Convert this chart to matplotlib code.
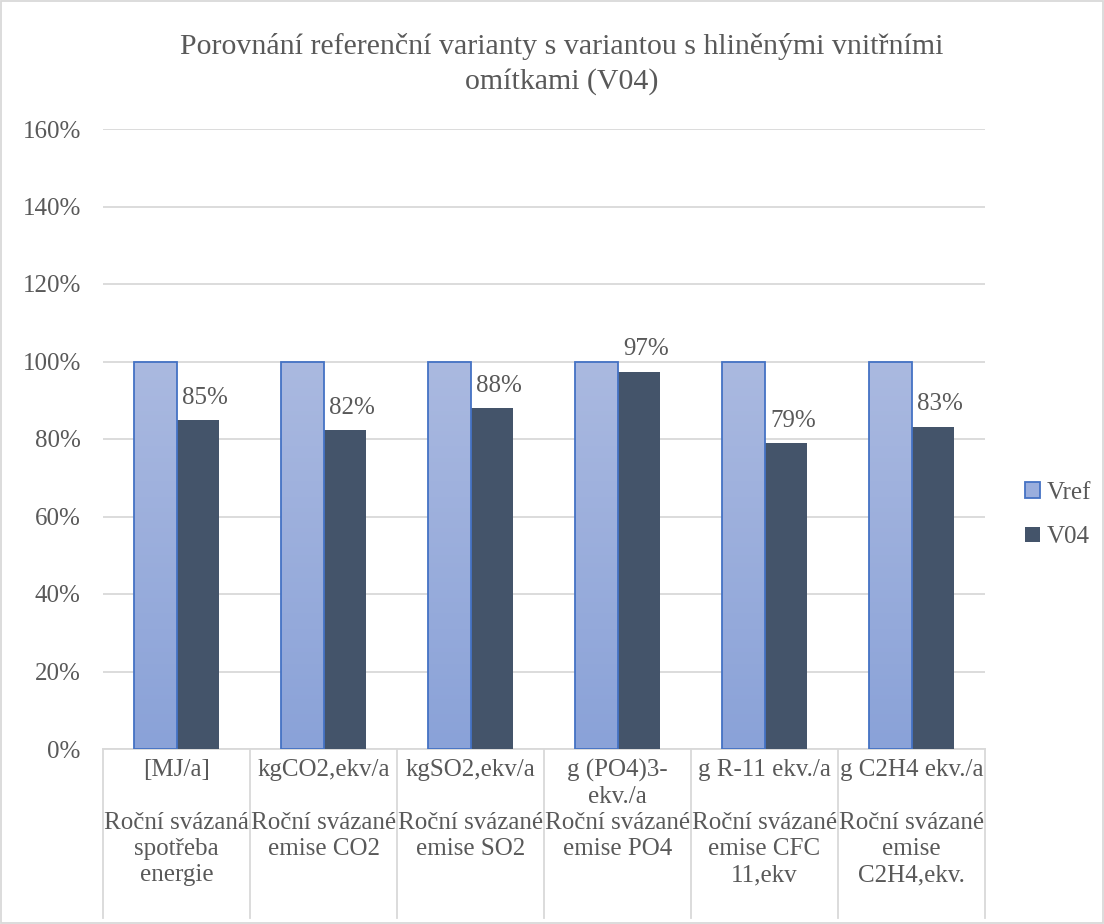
import numpy as np
import matplotlib.pyplot as plt
from matplotlib.colors import LinearSegmentedColormap
from matplotlib.patches import Patch

plt.rcParams['font.family'] = ['Liberation Serif', 'DejaVu Serif']

# data
units = ['[MJ/a]', 'kgCO2,ekv/a', 'kgSO2,ekv/a', 'g (PO4)3-\nekv./a',
         'g R-11 ekv./a', 'g C2H4 ekv./a']
descriptions = ['Roční svázaná\nspotřeba\nenergie', 'Roční svázané\nemise CO2',
                'Roční svázané\nemise SO2', 'Roční svázané\nemise PO4',
                'Roční svázané\nemise CFC\n11,ekv', 'Roční svázané\nemise\nC2H4,ekv.']
vref = [1.00, 1.00, 1.00, 1.00, 1.00, 1.00]
v04 = [0.85, 0.823, 0.879, 0.974, 0.789, 0.832]

title = 'Porovnání referenční varianty s variantou s hliněnými vnitřními\nomítkami (V04)'
text_col = '#595959'
grid_col = '#D9D9D9'
fs = 18

fig = plt.figure(figsize=(11.04, 9.24), dpi=100)
ax = fig.add_axes([103 / 1104, 1 - 749 / 924, 882 / 1104, 620 / 924])

x = np.arange(len(units))
w = 0.29
b1 = ax.bar(x - w / 2, vref, w, color='none', edgecolor='#4472C4', linewidth=1.3,
            zorder=4)
b2 = ax.bar(x + w / 2, v04, w, color='#44546A', zorder=3)

# vertical gradient fill for the Vref bars
grad = LinearSegmentedColormap.from_list('g', ['#8AA2D8', '#AAB9E0'])
for bar in b1:
    x0, y0 = bar.get_x(), bar.get_y()
    img = ax.imshow(np.linspace(0, 1, 100).reshape(-1, 1), cmap=grad, origin='lower',
                    extent=[x0, x0 + bar.get_width(), y0, y0 + bar.get_height()],
                    aspect='auto', zorder=3.5)
    img.set_clip_path(bar)

for xi, v in zip(x, v04):
    ax.annotate(f'{v * 100:.0f}%', (xi + w / 2, v), xytext=(5, 8),
                textcoords='offset points', ha='center', va='bottom',
                fontsize=fs, color=text_col, zorder=5)

ax.set_xlim(-0.5, len(units) - 0.5)
ax.set_ylim(0, 1.6)
ax.set_yticks(np.arange(0, 1.61, 0.2))
ax.set_yticklabels([f'{t * 100:.0f}%' for t in np.arange(0, 1.61, 0.2)])
ax.tick_params(axis='y', length=0, labelsize=fs, labelcolor=text_col, pad=16)
ax.set_xticks([])
ax.grid(axis='y', color=grid_col, linewidth=1.3, zorder=0)
for s in ['top', 'right', 'left']:
    ax.spines[s].set_visible(False)
ax.spines['bottom'].set_color(grid_col)
ax.spines['bottom'].set_linewidth(1.3)

# multi-level category axis
trans = ax.get_xaxis_transform()
for b in np.arange(-0.5, len(units), 1):
    ax.plot([b, b], [0, -169 / 620], color=grid_col, lw=1.3, transform=trans,
            clip_on=False)
for xi, u, d in zip(x, units, descriptions):
    ax.text(xi, -10 / 620, u, transform=trans, ha='center', va='top',
            fontsize=fs, color=text_col, linespacing=1.25)
    ax.text(xi, -63 / 620, d, transform=trans, ha='center', va='top',
            fontsize=fs, color=text_col, linespacing=1.25)

fig.text(562 / 1104, 1 - 33 / 924, title, ha='center', va='top', fontsize=21.5,
         color=text_col, linespacing=1.4)

handles = [Patch(facecolor='#9AAEDD', edgecolor='#4472C4', lw=1.3, label='Vref'),
           Patch(facecolor='#44546A', label='V04')]
fig.legend(handles=handles, loc='center left', bbox_to_anchor=(1025 / 1104, 1 - 515 / 924),
           frameon=False, fontsize=fs, labelcolor=text_col, handlelength=0.6,
           handleheight=0.6, handletextpad=0.25, labelspacing=0.9,
           borderaxespad=0, borderpad=0)

# chart border
fig.add_artist(plt.Rectangle((0.001, 0.001), 0.998, 0.998, transform=fig.transFigure,
                             fill=False, edgecolor=grid_col, lw=1.3))

fig.savefig('out.png', dpi=100)
